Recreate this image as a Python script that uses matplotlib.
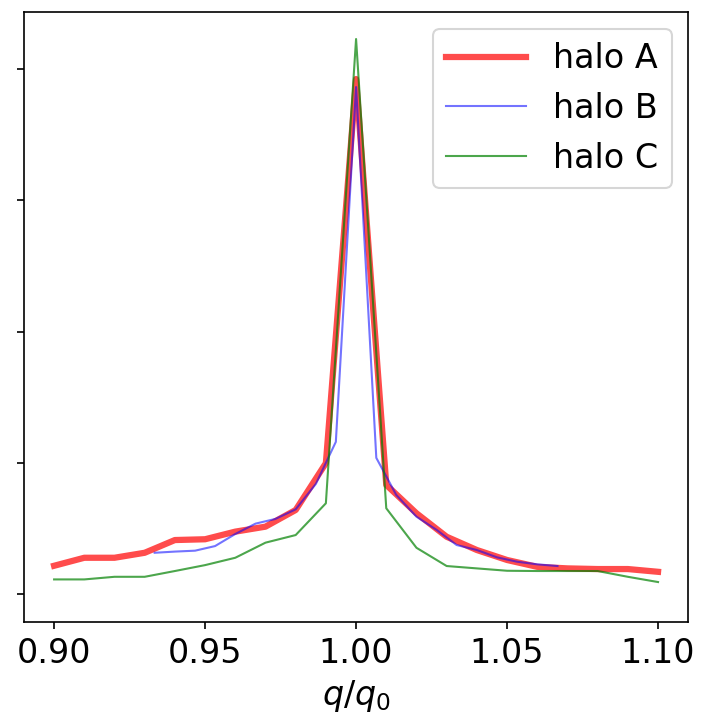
import numpy as np
import matplotlib
matplotlib.use("Agg")
import matplotlib.pyplot as plt

plt.rcParams['font.size'] = 16

# halo A and halo C sampled every 0.01 in q/q0
q_ac = [0.90, 0.91, 0.92, 0.93, 0.94, 0.95, 0.96, 0.97, 0.98, 0.99, 1.00,
        1.01, 1.02, 1.03, 1.04, 1.05, 1.06, 1.07, 1.08, 1.09, 1.10]
halo_a = [0.216, 0.277, 0.277, 0.315, 0.412, 0.418, 0.476, 0.514, 0.641, 0.998, 3.924,
          0.832, 0.616, 0.437, 0.336, 0.260, 0.208, 0.196, 0.191, 0.191, 0.170]
halo_c = [0.112, 0.112, 0.132, 0.132, 0.176, 0.221, 0.277, 0.392, 0.450, 0.692, 4.229,
          0.654, 0.353, 0.214, 0.196, 0.178, 0.176, 0.176, 0.176, 0.132, 0.092]

# halo B has a finer grid (1/150) over a narrower range
q_b = [0.9333, 0.9400, 0.9467, 0.9533, 0.9600, 0.9667, 0.9733, 0.9800, 0.9867, 0.9933,
       1.0000, 1.0067, 1.0133, 1.0200, 1.0267, 1.0333, 1.0400, 1.0467, 1.0533, 1.0600,
       1.0667]
halo_b = [0.315, 0.324, 0.331, 0.366, 0.458, 0.537, 0.573, 0.646, 0.840, 1.160,
          3.863, 1.038, 0.756, 0.590, 0.489, 0.374, 0.336, 0.280, 0.247, 0.227,
          0.214]

xticks = [0.90, 0.95, 1.00, 1.05, 1.10]

fig = plt.figure(figsize=(703 / 150, 720 / 150), dpi=150)
ax = fig.add_subplot(111)
fig.subplots_adjust(left=0.034, right=0.979, top=0.983, bottom=0.136)

ax.plot(q_ac, halo_a, color='r', lw=3, alpha=0.7, label='halo A')
ax.plot(q_b, halo_b, color='b', lw=1, alpha=0.55, label='halo B')
ax.plot(q_ac, halo_c, color='g', lw=1, alpha=0.7, label='halo C')

ax.set_xlim(0.89, 1.11)
ax.set_ylim(-0.213, 4.433)
ax.set_xticks(xticks)
ax.set_xticklabels(['%.2f' % t for t in xticks])
ax.set_yticks([0, 1, 2, 3, 4])
ax.set_yticklabels([])
ax.set_xlabel(r'$q/q_0$')
ax.legend(loc='upper right', handlelength=2.4)

fig.savefig('out.png', dpi=150)
